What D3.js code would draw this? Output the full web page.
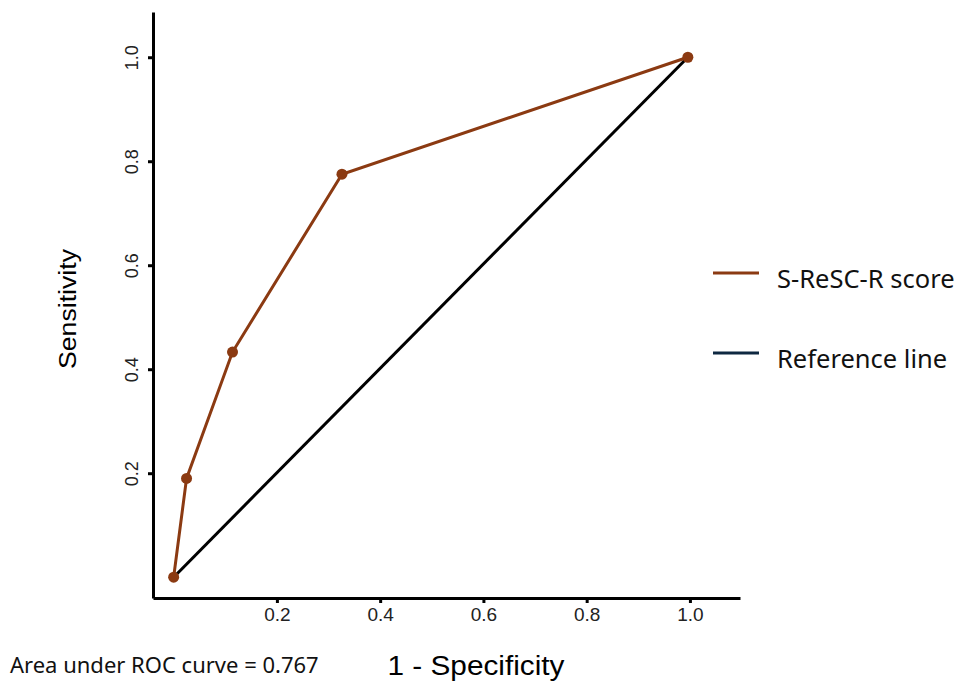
<!DOCTYPE html>
<html lang="en">
<head>
<meta charset="UTF-8">
<title>ROC curve</title>
<script src="https://d3js.org/d3.v7.min.js"></script>
<style>
  body { margin: 0; background: #fff; }
  .axis path, .axis line { stroke: #000; stroke-width: 3px; }
  .axis text { font-family: "Liberation Sans", Arial, sans-serif; fill: #222; }
</style>
</head>
<body>
<div id="container"></div>
<script>
// data
const fpr = [0, 0.025, 0.114, 0.326, 0.996];   // 1 - specificity
const tpr = [0, 0.19, 0.433, 0.775, 1.0];      // sensitivity
const refX = [0, 0.996];
const refY = [0, 1.0];
const tickVals = [0.2, 0.4, 0.6, 0.8, 1.0];
const legendLabels = ["S-ReSC-R score", "Reference line"];
const legendColors = ["#8b3a12", "#0e2841"];

const width = 966, height = 686;
const svg = d3.select("#container").append("svg")
    .attr("width", width)
    .attr("height", height);

// scales
const x = d3.scaleLinear().domain([-0.04, 1.097]).range([153, 740]);
const y = d3.scaleLinear().domain([-0.04, 1.087]).range([598, 12]);

// axes
const xAxis = d3.axisBottom(x).tickValues(tickVals).tickFormat(d3.format(".1f")).tickSize(5).tickSizeOuter(0);
const yAxis = d3.axisLeft(y).tickValues(tickVals).tickFormat(d3.format(".1f")).tickSize(5).tickSizeOuter(0);

const gx = svg.append("g")
    .attr("class", "axis")
    .attr("transform", "translate(0," + y(-0.04) + ")")
    .call(xAxis);
gx.selectAll("text")
    .attr("y", 23)
    .attr("dy", "0")
    .style("font-size", "19px");

const gy = svg.append("g")
    .attr("class", "axis")
    .attr("transform", "translate(" + x(-0.04) + ",0)")
    .call(yAxis);
gy.selectAll("text")
    .attr("transform", "rotate(-90)")
    .attr("x", 0)
    .attr("y", -15)
    .attr("dy", "0")
    .style("font-size", "18px")
    .style("text-anchor", "middle");

// reference line
const line = d3.line()
    .x(d => x(d[0]))
    .y(d => y(d[1]));

svg.append("path")
    .attr("d", line(refX.map((v, i) => [v, refY[i]])))
    .attr("fill", "none")
    .attr("stroke", "#000")
    .attr("stroke-width", 3);

// roc curve
const pts = fpr.map((v, i) => [v, tpr[i]]);
svg.append("path")
    .attr("d", line(pts))
    .attr("fill", "none")
    .attr("stroke", legendColors[0])
    .attr("stroke-width", 3);

svg.selectAll("circle.pt")
    .data(pts)
    .enter()
    .append("circle")
    .attr("class", "pt")
    .attr("cx", d => x(d[0]))
    .attr("cy", d => y(d[1]))
    .attr("r", 5.5)
    .attr("fill", legendColors[0]);

// axis titles
svg.append("text")
    .attr("transform", "translate(76,309) rotate(-90)")
    .attr("text-anchor", "middle")
    .attr("textLength", 120)
    .attr("lengthAdjust", "spacingAndGlyphs")
    .style("font-family", "'Liberation Sans', Arial, sans-serif")
    .style("font-size", "23px")
    .text("Sensitivity");

svg.append("text")
    .attr("x", 476)
    .attr("y", 675)
    .attr("text-anchor", "middle")
    .attr("textLength", 177)
    .attr("lengthAdjust", "spacingAndGlyphs")
    .style("font-family", "'Liberation Sans', Arial, sans-serif")
    .style("font-size", "27px")
    .text("1 - Specificity");

svg.append("text")
    .attr("x", 10)
    .attr("y", 673)
    .style("font-family", "'Noto Sans', sans-serif")
    .style("font-size", "22px")
    .style("fill", "#111")
    .text("Area under ROC curve = 0.767");

// legend
const leg = svg.selectAll("g.legend")
    .data(legendLabels)
    .enter()
    .append("g")
    .attr("class", "legend")
    .attr("transform", (d, i) => "translate(713," + (273 + i * 80) + ")");

leg.append("line")
    .attr("x1", 0).attr("x2", 46)
    .attr("y1", 0).attr("y2", 0)
    .attr("stroke", (d, i) => legendColors[i])
    .attr("stroke-width", 3);

leg.append("text")
    .attr("x", 64)
    .attr("y", 15)
    .style("font-family", "'Noto Sans', sans-serif")
    .style("font-size", "25.5px")
    .style("fill", "#111")
    .text(d => d);
</script>
</body>
</html>
